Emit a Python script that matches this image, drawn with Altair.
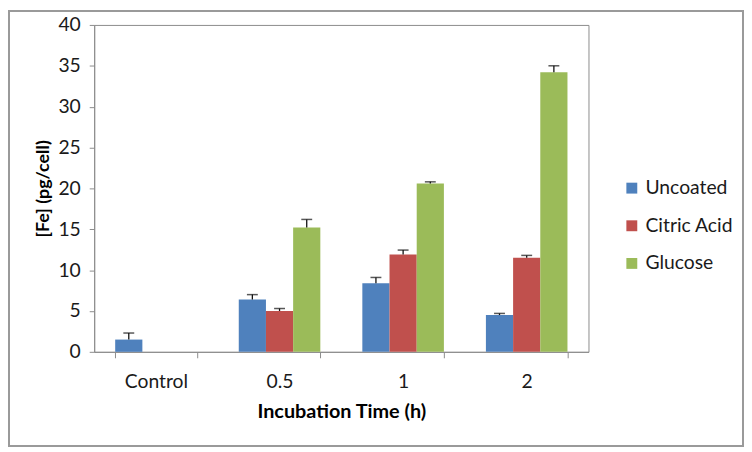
import altair as alt
import pandas as pd

categories = ["Control", "0.5", "1", "2"]
series = ["Uncoated", "Citric Acid", "Glucose"]
colors = ["#4F81BD", "#C0504D", "#9BBB59"]

uncoated = [1.5, 6.4, 8.4, 4.5]
uncoated_err = [0.8, 0.6, 0.7, 0.2]
citric = [None, 5.0, 11.9, 11.5]
citric_err = [None, 0.3, 0.55, 0.3]
glucose = [None, 15.2, 20.6, 34.2]
glucose_err = [None, 1.0, 0.2, 0.8]

y_ticks = [0, 5, 10, 15, 20, 25, 30, 35, 40]

rows = []
for name, vals, errs in [("Uncoated", uncoated, uncoated_err),
                         ("Citric Acid", citric, citric_err),
                         ("Glucose", glucose, glucose_err)]:
    for cat, v, e in zip(categories, vals, errs):
        if v is None:
            continue
        rows.append({"time": cat, "series": name, "value": v, "top": v + e})
df = pd.DataFrame(rows)

FONT = "Lato"
W, H = 499, 330
PAD = {"left": 87, "top": 15, "right": 157, "bottom": 96}

x_enc = alt.X("time:N", sort=categories, title="Incubation Time (h)",
              scale=alt.Scale(domain=categories, paddingInner=0.34, paddingOuter=0.17),
              axis=alt.Axis(tickBand="extent", labelAngle=0, tickSize=6,
                            labelPadding=15, titlePadding=11))
xoff = alt.XOffset("series:N", sort=series,
                   scale=alt.Scale(domain=series, paddingInner=0, paddingOuter=0))

base = alt.Chart(df)

bars = base.mark_bar().encode(
    x=x_enc,
    xOffset=xoff,
    y=alt.Y("value:Q", title="[Fe] (pg/cell)",
            scale=alt.Scale(domain=[0, 40], nice=False),
            axis=alt.Axis(values=y_ticks, grid=False, tickSize=5,
                          labelPadding=9, titlePadding=5, titleFontSize=18)),
    color=alt.Color("series:N", sort=series,
                    scale=alt.Scale(domain=series, range=colors),
                    legend=alt.Legend(title=None, orient="none", legendX=533, legendY=155,
                                      symbolType="square", symbolSize=121,
                                      symbolStrokeWidth=0, rowPadding=17,
                                      labelFontSize=19.5, labelFont=FONT,
                                      labelColor="#1a1a1a", labelOffset=4)),
)

err_rule = base.mark_rule(color="#111111", strokeWidth=1.3).encode(
    x=alt.X("time:N", sort=categories),
    xOffset=xoff,
    y="value:Q",
    y2="top:Q",
)

err_cap = base.mark_tick(color="#111111", size=11, thickness=1.5).encode(
    x=alt.X("time:N", sort=categories),
    xOffset=xoff,
    y="top:Q",
)

border = alt.Chart(df).mark_rect(fill=None, stroke="#9a9a9a", strokeWidth=2).encode(
    x=alt.value(-PAD["left"] + 1),
    x2=alt.value(W + PAD["right"] - 1),
    y=alt.value(-PAD["top"] + 1),
    y2=alt.value(H + PAD["bottom"] - 1),
)

chart = alt.layer(bars, err_rule, err_cap, border).properties(
    width=W, height=H,
    autosize=alt.AutoSizeParams(type="none"),
    padding=PAD,
    background="white",
).configure_view(
    stroke="#8c8c8c", strokeWidth=1
).configure_axis(
    domainColor="#8c8c8c", tickColor="#8c8c8c",
    labelFont=FONT, labelFontSize=19.5, labelColor="#1a1a1a",
    titleFont=FONT, titleFontSize=20, titleFontWeight="bold", titleColor="#000000",
)

chart.save("out.html", embed_options={"renderer": "svg", "actions": False})
